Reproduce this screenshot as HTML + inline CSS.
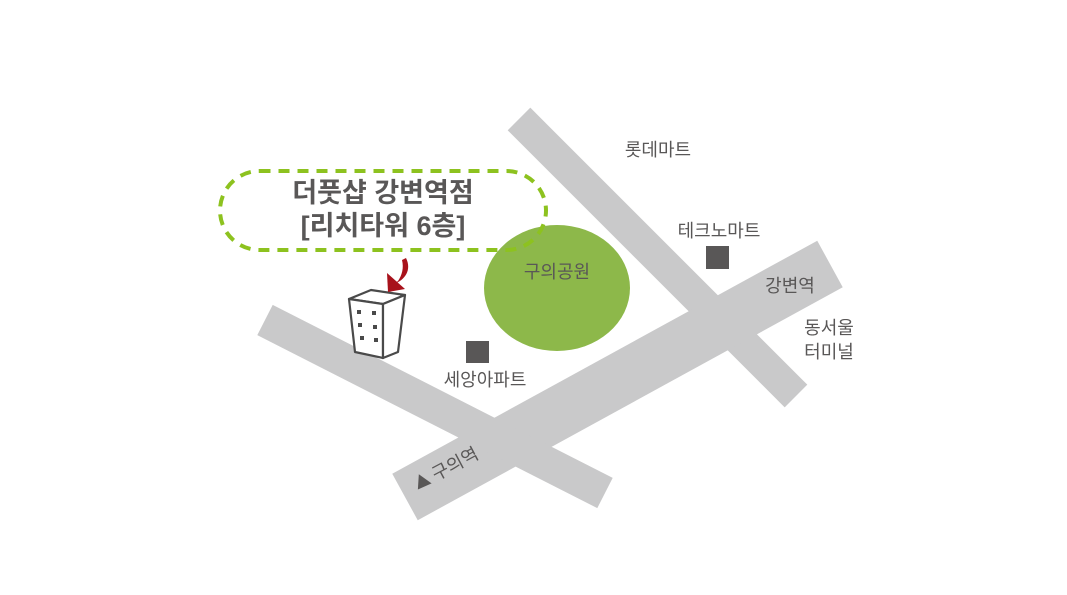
<!DOCTYPE html>
<html><head><meta charset="utf-8"><style>
html,body{margin:0;padding:0;background:#fff;}
svg{display:block;}
text{font-family:"Liberation Sans","Noto Sans CJK KR",sans-serif;fill:#595757;}
</style></head><body>
<svg width="1067" height="595" viewBox="0 0 1067 595" xmlns="http://www.w3.org/2000/svg">
<g stroke="#c9c9ca" fill="none">
<line x1="519" y1="119" x2="796" y2="396" stroke-width="32"/>
<line x1="405" y1="497" x2="830" y2="264" stroke-width="53"/>
<line x1="265" y1="320" x2="605" y2="493" stroke-width="34"/>
</g>
<ellipse cx="557" cy="288" rx="73" ry="63" fill="#8db84a"/>
<rect x="220" y="171" width="326" height="79" rx="39.5" fill="none" stroke="#8dc21f" stroke-width="4" stroke-dasharray="11 8"/>
<text x="383" y="202" font-size="27" font-weight="bold" text-anchor="middle" fill="#555">더풋샵 강변역점</text>
<text x="383" y="235" font-size="27" font-weight="bold" text-anchor="middle" fill="#555">[리치타워 6층]</text>
<rect x="466" y="341" width="23" height="22" fill="#595757"/>
<rect x="706" y="246" width="23" height="23" fill="#595757"/>
<text x="557" y="278" font-size="18" text-anchor="middle">구의공원</text>
<text x="485" y="386" font-size="18" text-anchor="middle">세앙아파트</text>
<text x="658" y="156" font-size="18" text-anchor="middle">롯데마트</text>
<text x="719" y="237" font-size="18" text-anchor="middle">테크노마트</text>
<text x="790" y="292" font-size="18" text-anchor="middle">강변역</text>
<text x="829" y="334" font-size="18" text-anchor="middle">동서울</text>
<text x="829" y="358" font-size="18" text-anchor="middle">터미널</text>
<g transform="translate(436,481) rotate(-28)">
<polygon points="-20,-1 -12,-14 -5,0" fill="#595757"/>
<text x="0" y="0" font-size="18">구의역</text>
</g>
<g stroke="#4a4a4a" stroke-width="2.2" fill="#fff" stroke-linejoin="round">
<polygon points="349,299 371,290 405,295 383,304"/>
<polygon points="349,299 383,304 383,358 355,352"/>
<polygon points="383,304 405,295 398,352 383,358"/>
</g>
<g fill="#4a4a4a">
<rect x="357" y="310" width="4" height="4"/><rect x="372" y="311" width="4" height="4"/>
<rect x="358" y="323" width="4" height="4"/><rect x="373" y="325" width="4" height="4"/>
<rect x="360" y="336" width="4" height="4"/><rect x="374" y="338" width="4" height="4"/>
</g>
<path d="M406,258 C412,270 405,280 394,284 L398,281 C402,275 404,268 402,260 Z" fill="#a8121b"/>
<polygon points="387,273 405,289 388,292" fill="#a8121b"/>
</svg>
</body></html>
